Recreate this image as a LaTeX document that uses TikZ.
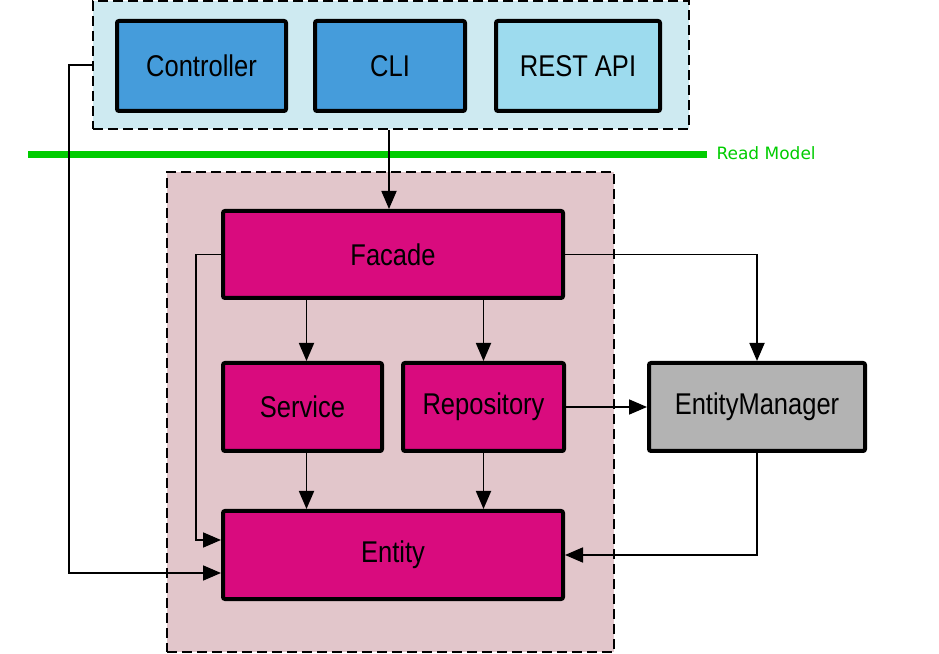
\documentclass[tikz,border=0pt]{standalone}
\usepackage{fontspec}
\newfontfamily\boxfont[FakeStretch=0.85]{Liberation Sans}
\newfontfamily\notefont{DejaVu Sans}
\usetikzlibrary{arrows.meta, positioning}

\definecolor{uiback}{RGB}{206,234,241}
\definecolor{uiblue}{RGB}{69,156,219}
\definecolor{uilight}{RGB}{157,219,238}
\definecolor{domback}{RGB}{226,198,203}
\definecolor{dompink}{RGB}{217,11,126}
\definecolor{emgray}{RGB}{179,179,179}
\definecolor{readgreen}{RGB}{0,204,0}

\begin{document}
\begin{tikzpicture}[
		x=1pt, y=1pt,
		every node/.style={font=\boxfont\fontsize{30}{34}\selectfont, text=black},
		layer/.style={draw, dash pattern=on 10pt off 5pt, line width=1.4pt, inner sep=0pt},
		block/.style={draw, line width=4pt, rounded corners=2pt, minimum height=88pt, inner sep=0pt},
		ui/.style={block, fill=uiblue, minimum height=90pt},
		dom/.style={block, fill=dompink},
		link/.style={-{Triangle[length=18pt, width=15pt]}, line width=1.8pt}
		]
		\useasboundingbox (0,0) rectangle (939,653);
		% layers
		\node[layer, fill=uiback, minimum width=596pt, minimum height=128pt] at (391,588) (uilayer) {};
		\node[layer, fill=domback, minimum width=447pt, minimum height=480pt] at (390.5,241) (domlayer) {};
		% read model line
		\draw[readgreen, line width=7pt] (28,498) coordinate (rmstart) -- (707,498) coordinate (rmend);
		\node[right=6pt of rmend, font=\notefont\fontsize{17}{20}\selectfont, text=readgreen, yshift=2pt] (readmodel) {Read Model};
		
		% entry points
		\node[ui, minimum width=169pt] at (201.5,587) (ctrl) {Controller};
		\node[ui, minimum width=150pt, right=25pt of ctrl] (cli) {CLI};
		\node[ui, fill=uilight, minimum width=164pt, right=27pt of cli] (rest) {REST API};
		
		% domain
		\node[dom, minimum width=340pt, minimum height=87pt] at (393,398.5) (facade) {Facade};
		\node[dom, minimum width=159pt] at (302.5,246) (service) {Service};
		\node[dom, minimum width=161pt] at (483.5,246) (repo) {Repository};
		\node[dom, minimum width=340pt] at (393,98) (entity) {Entity};
		\node[block, fill=emgray, minimum width=216pt] at (757,246) (em) {EntityManager};
		
		% arrows
		\draw[link] ([xshift=-2pt]uilayer.south) -- ([xshift=-2pt]uilayer.south |- facade.north);
		\draw[link] (uilayer.west) -- ++(-23,0) |- ([yshift=-18pt]entity.west);
		\draw[link] (facade.west) -- ++(-25,0) |- ([yshift=15pt]entity.west);
		\draw[link] ([xshift=4pt]service.north |- facade.south) -- ([xshift=4pt]service.north);
		\draw[link] (repo.north |- facade.south) -- (repo.north);
		\draw[link] ([xshift=4pt]service.south) -- ([xshift=4pt]service.south |- entity.north);
		\draw[link] (repo.south) -- (repo.south |- entity.north);
		\draw[link] (repo.east) -- (em.west);
		\draw[link] (facade.east) -| (em.north);
		\draw[link] (em.south) |- (entity.east);
		
	\end{tikzpicture}
\end{document}
